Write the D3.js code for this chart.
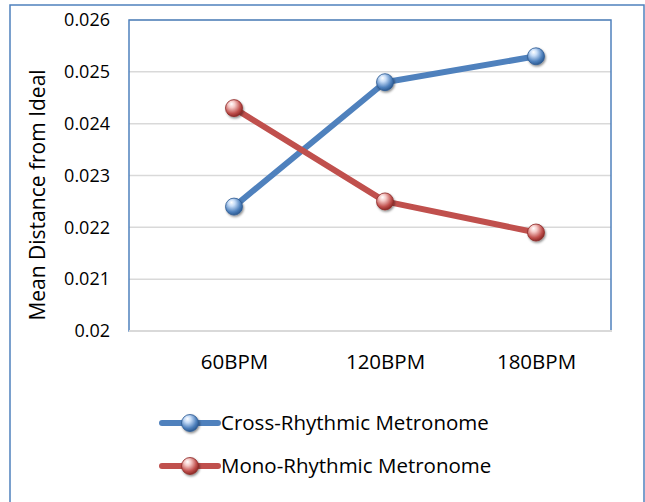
<!DOCTYPE html>
<html><head><meta charset="utf-8">
<script src="https://cdn.jsdelivr.net/npm/d3@7"></script>
<style>html,body{margin:0;padding:0;background:#fff;}svg{display:block;}</style>
</head><body>
<svg id="c" width="645" height="502"></svg>
<script>
const categories = ["60BPM", "120BPM", "180BPM"];
const crossValues = [0.0224, 0.0248, 0.0253];
const monoValues = [0.0243, 0.0225, 0.0219];
const seriesNames = ["Cross-Rhythmic Metronome", "Mono-Rhythmic Metronome"];
const yTicks = [0.02, 0.021, 0.022, 0.023, 0.024, 0.025, 0.026];
const yTickLabels = ["0.02", "0.021", "0.022", "0.023", "0.024", "0.025", "0.026"];

const FONT = "'Open Sans', sans-serif";
const svg = d3.select("#c");
const plot = {left: 129, right: 611, top: 20, bottom: 331};

const series = [
  {name: seriesNames[0], values: crossValues, color: "#4F81BD", light: "#C6DCF7", dark: "#2E5C93"},
  {name: seriesNames[1], values: monoValues, color: "#C0504D", light: "#F5C9C7", dark: "#8E2B28"}
];

const defs = svg.append("defs");
series.forEach((s, i) => {
  const g = defs.append("radialGradient").attr("id", "grad" + i)
    .attr("cx", "40%").attr("cy", "35%").attr("r", "65%").attr("fx", "35%").attr("fy", "25%");
  g.append("stop").attr("offset", "0%").attr("stop-color", "#ffffff");
  g.append("stop").attr("offset", "30%").attr("stop-color", s.light);
  g.append("stop").attr("offset", "75%").attr("stop-color", s.color);
  g.append("stop").attr("offset", "100%").attr("stop-color", s.dark);
});
const f = defs.append("filter").attr("id", "shadow").attr("x", "-50%").attr("y", "-50%").attr("width", "200%").attr("height", "200%");
f.append("feDropShadow").attr("dx", 1).attr("dy", 1.5).attr("stdDeviation", 1.2).attr("flood-color", "#000").attr("flood-opacity", 0.45);

// outer border
svg.append("rect").attr("x", 10).attr("y", 5).attr("width", 634).attr("height", 510)
  .attr("fill", "none").attr("stroke", "#4F81BD").attr("stroke-width", 1.5);

const y = d3.scaleLinear().domain([0.02, 0.026]).range([plot.bottom, plot.top]);
const x = d3.scalePoint().domain(categories).range([234, 536]);

// gridlines
svg.append("g").selectAll("line").data(yTicks).join("line")
  .attr("x1", plot.left).attr("x2", plot.right)
  .attr("y1", d => y(d)).attr("y2", d => y(d))
  .attr("stroke", "#D9D9D9").attr("stroke-width", 1.5);

// plot area border
svg.append("rect").attr("x", plot.left).attr("y", plot.top)
  .attr("width", plot.right - plot.left).attr("height", plot.bottom - plot.top)
  .attr("fill", "none").attr("stroke", "#4F81BD").attr("stroke-width", 1.5);
// x axis line (grey)
svg.append("line").attr("x1", plot.left).attr("x2", plot.right + 1)
  .attr("y1", plot.bottom).attr("y2", plot.bottom)
  .attr("stroke", "#D9D9D9").attr("stroke-width", 2);

// y axis labels
const yAxis = d3.axisLeft(y).tickValues(yTicks).tickSize(0).tickPadding(0)
  .tickFormat((d, i) => yTickLabels[i]);
const yg = svg.append("g").attr("transform", `translate(110,0)`).call(yAxis);
yg.select(".domain").remove();
yg.selectAll("text").attr("font-family", FONT).attr("font-size", 18).attr("fill", "#000");

// x axis labels
const xAxis = d3.axisBottom(x).tickSize(0).tickPadding(0);
const xg = svg.append("g").attr("transform", `translate(0,${plot.bottom})`).call(xAxis);
xg.select(".domain").remove();
xg.selectAll("text").attr("font-family", FONT).attr("font-size", 20.5).attr("fill", "#000")
  .attr("y", 38).attr("dy", 0);

// y title
svg.append("text").attr("transform", "translate(45,195) rotate(-90)")
  .attr("text-anchor", "middle").attr("font-family", FONT).attr("font-size", 21)
  .attr("fill", "#000").text("Mean Distance from Ideal");

// lines
const line = d3.line().x((d, i) => x(categories[i])).y(d => y(d));
series.forEach((s, i) => {
  svg.append("path").datum(s.values).attr("d", line)
    .attr("fill", "none").attr("stroke", s.color).attr("stroke-width", 6)
    .attr("stroke-linejoin", "round");
});
series.forEach((s, i) => {
  svg.append("g").selectAll("circle").data(s.values).join("circle")
    .attr("cx", (d, j) => x(categories[j])).attr("cy", d => y(d)).attr("r", 8.5)
    .attr("fill", `url(#grad${i})`).attr("stroke", s.dark).attr("stroke-width", 0.8)
    .attr("filter", "url(#shadow)");
});

// legend
const legendY = [423, 466];
series.forEach((s, i) => {
  const g = svg.append("g");
  g.append("line").attr("x1", 162).attr("x2", 218).attr("y1", legendY[i]).attr("y2", legendY[i])
    .attr("stroke", s.color).attr("stroke-width", 6).attr("stroke-linecap", "round");
  g.append("circle").attr("cx", 190).attr("cy", legendY[i]).attr("r", 8.5)
    .attr("fill", `url(#grad${i})`).attr("stroke", s.dark).attr("stroke-width", 0.8)
    .attr("filter", "url(#shadow)");
  g.append("text").attr("x", 221).attr("y", legendY[i]).attr("dy", "0.35em")
    .attr("font-family", FONT).attr("font-size", 20.5).attr("fill", "#000").text(s.name);
});
</script>
</body></html>
